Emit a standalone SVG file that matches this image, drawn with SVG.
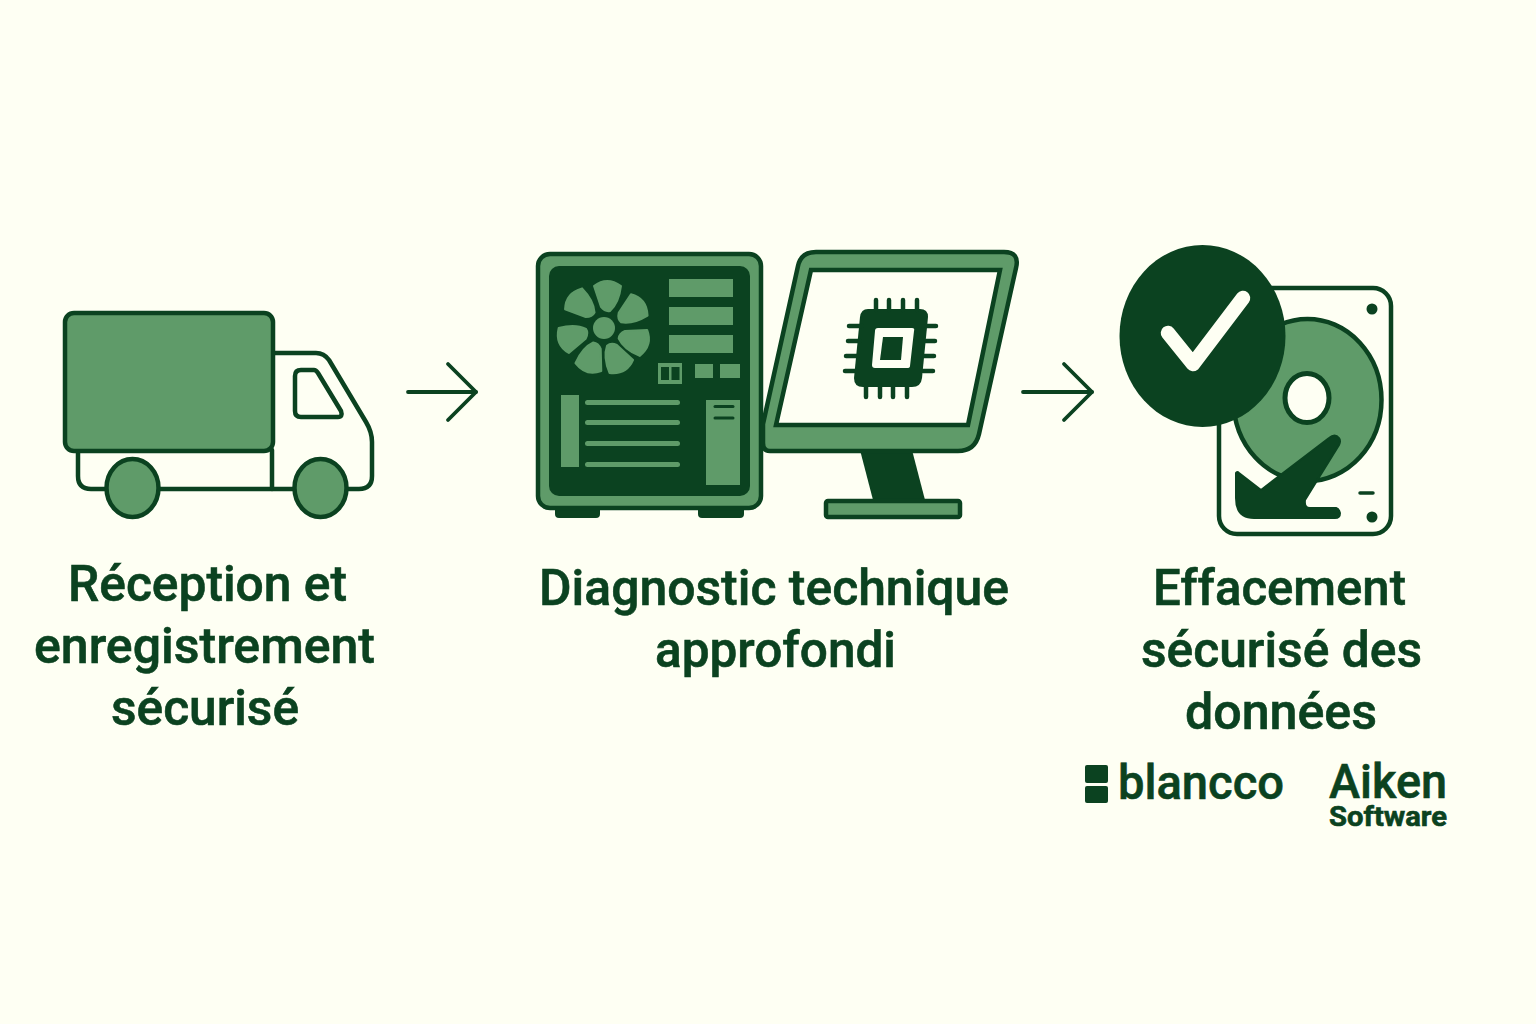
<svg xmlns="http://www.w3.org/2000/svg" xmlns:xlink="http://www.w3.org/1999/xlink" width="1536" height="1024" viewBox="0 0 1536 1024">
<style>
.o{stroke:#0b4220;stroke-width:4.5;stroke-linejoin:round;stroke-linecap:round}
.m{fill:#5f9b69}
.d{fill:#0b4220}
.p{fill:#fefff3}
.n{fill:none}
.pin{stroke:#0b4220;stroke-width:4.5;stroke-linecap:round;fill:none}
.t{font-family:Roboto,"Liberation Sans",sans-serif;font-weight:500;fill:#0b4220;font-size:50px;stroke:#0b4220;stroke-width:.6}
.c{fill:none;stroke:#0b4220;stroke-width:3.8;stroke-linecap:round}
.sl{fill:none;stroke:#0b4220;stroke-width:3;stroke-linecap:round}
</style>
<defs>
<marker id="head" markerUnits="userSpaceOnUse" viewBox="-32 -32 36 64" markerWidth="36" markerHeight="64" refX="0" refY="0" orient="auto">
<path d="M-28,-28 L0,0 L-28,28" fill="none" stroke="#0b4220" stroke-width="3.8" stroke-linecap="round" stroke-linejoin="round"/>
</marker>
<path id="blade" class="m" d="M-10,-42 Q3,-52 17,-42 Q15,-25 6,-17 Q1,-16 -3,-21 Z" stroke="#5f9b69" stroke-width="2" stroke-linejoin="round"/>
</defs>
<rect width="1536" height="1024" fill="#fefff3"/>

<g id="connectors">
<line x1="408" y1="392" x2="476" y2="392" class="c" marker-end="url(#head)"/>
<line x1="1023" y1="392" x2="1092" y2="392" class="c" marker-end="url(#head)"/>
</g>

<g id="node-reception">
<path class="o p" d="M274,353 H316 Q324,353 329,360 L366,422 Q372,432 372,442 V476 Q372,489 359,489 H91 Q78,489 78,476 V450 Z"/>
<line x1="272" y1="450" x2="272" y2="489" class="o n"/>
<path class="o n" d="M301,370 H314 Q316,370 318,373 L341,411 Q343,417 338,417 H301 Q295,417 295,411 V376 Q295,370 301,370 Z"/>
<rect class="o m" x="65" y="313" width="208" height="138" rx="9"/>
<ellipse class="o m" cx="132.500" cy="488" rx="26" ry="29"/>
<ellipse class="o m" cx="320.500" cy="488" rx="26" ry="29"/>
<text class="t" x="207.500" y="601" text-anchor="middle" textLength="279" lengthAdjust="spacingAndGlyphs">Réception et</text>
<text class="t" x="204.500" y="663" text-anchor="middle" textLength="341" lengthAdjust="spacingAndGlyphs">enregistrement</text>
<text class="t" x="205" y="725" text-anchor="middle" textLength="188" lengthAdjust="spacingAndGlyphs">sécurisé</text>
</g>

<g id="node-diagnostic">
<rect class="d" x="555" y="505" width="45" height="13" rx="4"/>
<rect class="d" x="698" y="505" width="46" height="13" rx="4"/>
<rect class="o m" x="538" y="254" width="223" height="254" rx="12"/>
<rect class="d" x="549" y="266" width="201" height="230" rx="10"/>
<circle class="m" cx="604" cy="328" r="11"/>
<g transform="translate(604,328)">
<use href="#blade" xlink:href="#blade"/>
<use href="#blade" xlink:href="#blade" transform="rotate(52)"/>
<use href="#blade" xlink:href="#blade" transform="rotate(106)"/>
<use href="#blade" xlink:href="#blade" transform="rotate(151)"/>
<use href="#blade" xlink:href="#blade" transform="rotate(197)"/>
<use href="#blade" xlink:href="#blade" transform="rotate(248)"/>
<use href="#blade" xlink:href="#blade" transform="rotate(309)"/>
</g>
<rect class="m" x="669" y="279" width="64" height="18"/>
<rect class="m" x="669" y="307" width="64" height="18"/>
<rect class="m" x="669" y="335" width="64" height="18"/>
<rect class="m" x="658" y="363" width="24" height="21"/>
<rect class="d" x="661" y="367" width="8" height="13"/>
<rect class="d" x="671.500" y="367" width="8" height="13"/>
<rect class="m" x="695" y="364" width="18" height="14"/>
<rect class="m" x="720" y="364" width="20" height="14"/>
<rect class="m" x="561" y="395" width="18" height="72"/>
<rect class="m" x="585" y="400" width="95" height="5" rx="2.500"/>
<rect class="m" x="585" y="420" width="95" height="5" rx="2.500"/>
<rect class="m" x="585" y="441" width="95" height="5" rx="2.500"/>
<rect class="m" x="585" y="462" width="95" height="5" rx="2.500"/>
<rect class="m" x="706" y="400" width="34" height="85"/>
<line x1="715" y1="406.500" x2="733" y2="406.500" class="sl"/>
<line x1="715" y1="418" x2="733" y2="418" class="sl"/>
<path class="d" d="M860,450 H912 L925,500 H873 Z"/>
<rect class="o m" x="826" y="501" width="134" height="16" rx="2"/>
<path class="o m" d="M816,252 H1004 Q1020,252 1016,268 L979,434 Q975,451 958,451 H770 Q763,451 763,443 V424 L798,266 Q801,252 816,252 Z"/>
<path class="p" stroke="#0b4220" stroke-width="4.500" stroke-linejoin="miter" d="M811,270 H1000 L968,425 H776 Z"/>
<path class="d" d="M868,309 H920 Q928,309 928,317 L922,378 Q921,387 912,387 H863 Q854,387 854,378 L860,317 Q861,309 868,309 Z"/>
<path class="pin" d="M876,300 V310 M889,300 V310 M903,300 V310 M917,300 V310 M866,397 V386 M880,397 V386 M893,397 V386 M907,397 V386 M849,326 H862 M848,341 H860 M846,356 H858 M845,371 H857 M936,326 H926 M935,341 H925 M934,356 H924 M933,371 H923"/>
<path class="p" d="M878,328 H912 Q915,328 914,331 L910,366 Q910,368 907,368 H875 Q872,368 872,365 L875,331 Q875,328 878,328 Z"/>
<path class="d" d="M883,337 H903 L901,360 H880 Z"/>
<text class="t" x="774" y="605" text-anchor="middle" textLength="470" lengthAdjust="spacingAndGlyphs">Diagnostic technique</text>
<text class="t" x="775.500" y="667" text-anchor="middle" textLength="241" lengthAdjust="spacingAndGlyphs">approfondi</text>
</g>

<g id="node-effacement">
<rect class="o p" x="1219" y="288" width="172" height="246" rx="18"/>
<ellipse class="o m" cx="1307.500" cy="400" rx="74" ry="81"/>
<ellipse cx="1307" cy="398" rx="22" ry="24.500" class="p" stroke="#0b4220" stroke-width="5"/>
<circle class="d" cx="1372" cy="309" r="5.500"/>
<circle class="d" cx="1372" cy="517" r="5.500"/>
<line x1="1360" y1="493" x2="1373" y2="493" stroke="#0b4220" stroke-width="3.500" stroke-linecap="round"/>
<path class="d" stroke="#0b4220" stroke-width="2" stroke-linejoin="round" d="M1236,473 Q1237,471 1239,473 L1261,490 L1329,438 Q1335,433 1339,438 Q1341,441 1339,445 L1305,500 Q1304,508 1310,508 H1336 Q1340,510 1340,513 Q1340,518 1335,518 H1254 Q1236,518 1236,498 Z"/>
<ellipse class="d" cx="1202.500" cy="336" rx="83" ry="91"/>
<path d="M1168,333 L1193,364 L1243,298" fill="none" stroke="#fefff3" stroke-width="14.500" stroke-linecap="round" stroke-linejoin="round"/>
<text class="t" x="1279.500" y="605" text-anchor="middle" textLength="253" lengthAdjust="spacingAndGlyphs">Effacement</text>
<text class="t" x="1281.500" y="667" text-anchor="middle" textLength="281" lengthAdjust="spacingAndGlyphs">sécurisé des</text>
<text class="t" x="1281" y="729" text-anchor="middle" textLength="192" lengthAdjust="spacingAndGlyphs">données</text>
</g>

<g id="logo-blancco">
<rect class="d" x="1085" y="765" width="23" height="18" rx="2"/>
<rect class="d" x="1085" y="786" width="23" height="17" rx="2"/>
<text class="t" x="1118" y="799" textLength="166" lengthAdjust="spacingAndGlyphs" style="font-size:48px">blancco</text>
</g>
<g id="logo-aiken">
<text class="t" x="1329" y="798" textLength="118" lengthAdjust="spacingAndGlyphs" style="font-size:48px">Aiken</text>
<text class="t" x="1329" y="826" textLength="118" lengthAdjust="spacingAndGlyphs" style="font-size:28px;font-weight:700">Software</text>
</g>
</svg>
